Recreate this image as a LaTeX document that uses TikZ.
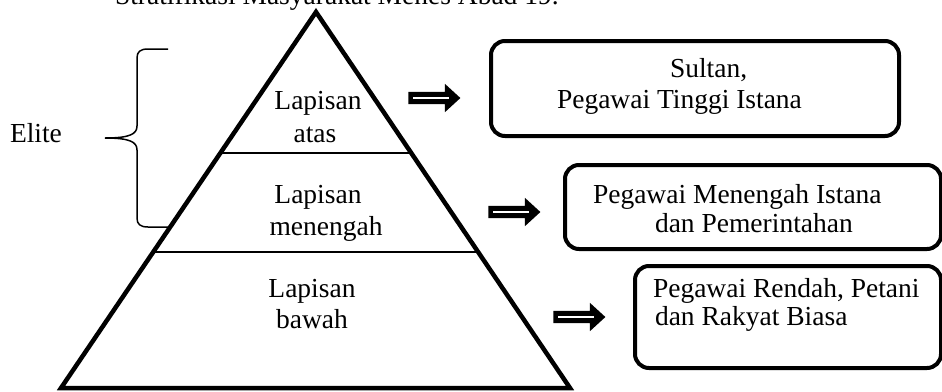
\documentclass[tikz,border=0pt]{standalone}
\usepackage{fontspec}
\setmainfont{Liberation Serif}
\usetikzlibrary{shapes.arrows,calc}
\begin{document}
\begin{tikzpicture}[x=1pt,y=-1pt,
  txt/.style={font=\fontsize{27.5}{33}\selectfont, inner sep=0pt, outer sep=0pt},
  box/.style={draw, line width=4pt, rounded corners=14pt, inner sep=0pt, anchor=north west},
  blk/.style={single arrow, fill=black, draw=none, inner sep=6pt, minimum height=52pt,
    single arrow head extend=8pt, single arrow tip angle=85},
  stripe/.style={white, line width=1.6pt}]
\useasboundingbox (0,0) rectangle (942,391);
% pyramid
\coordinate (A) at (316,12);
\coordinate (BL) at (61,388);
\coordinate (BR) at (570,388);
\draw[line width=4.5pt, line join=miter] (A) -- (BL) -- (BR) -- cycle;
\draw[line width=2pt] ($(A)!0.375!(BL)$) -- ($(A)!0.375!(BR)$);
\draw[line width=2pt] ($(A)!0.638!(BL)$) -- ($(A)!0.638!(BR)$);
% brace
\draw[line width=1.5pt] (168,49) -- (148,49) .. controls (140,49) and (137,52) .. (137,58)
  -- (137,126) .. controls (137,134) and (130,138) .. (105,138)
  .. controls (130,138) and (137,142) .. (137,150)
  -- (137,218) .. controls (137,224) and (140,227) .. (148,227) -- (170,227);
% labels
\node[txt, anchor=base west] (title) at (115,4) {Stratifikasi Masyarakat Menes Abad 19.};
\node[txt, anchor=base west] (elite) at (10,142) {Elite};
\node[txt, anchor=base] (l1a) at (318,109) {Lapisan};
\node[txt, anchor=base] (l1b) at (315,142) {atas};
\node[txt, anchor=base] (l2a) at (318,203) {Lapisan};
\node[txt, anchor=base] (l2b) at (326,235) {menengah};
\node[txt, anchor=base] (l3a) at (312,297) {Lapisan};
\node[txt, anchor=base] (l3b) at (312,328) {bawah};
% boxes
\node[box, minimum width=408pt, minimum height=95pt] (b1) at (489,39) {};
\node[box, minimum width=376pt, minimum height=84pt] (b2) at (563,163) {};
\node[box, minimum width=306pt, minimum height=102pt] (b3) at (633,264) {};
\node[txt, anchor=base west] (t1a) at (670,77) {Sultan,};
\node[txt, anchor=base west] (t1b) at (557,108) {Pegawai Tinggi Istana};
\node[txt, anchor=base west] (t2a) at (593,203) {Pegawai Menengah Istana};
\node[txt, anchor=base west] (t2b) at (655,232) {dan Pemerintahan};
\node[txt, anchor=base west] (t3a) at (653,297) {Pegawai Rendah, Petani};
\node[txt, anchor=base west] (t3b) at (655,325) {dan Rakyat Biasa};
% arrows
\node[blk] (a1) at (431,98) {};
\node[blk] (a2) at (511,212) {};
\node[blk] (a3) at (576,317) {};
\foreach \a in {a1,a2,a3}
  \draw[stripe] ([xshift=5pt]\a.west) -- ([xshift=-12pt]\a.east);
\end{tikzpicture}
\end{document}
